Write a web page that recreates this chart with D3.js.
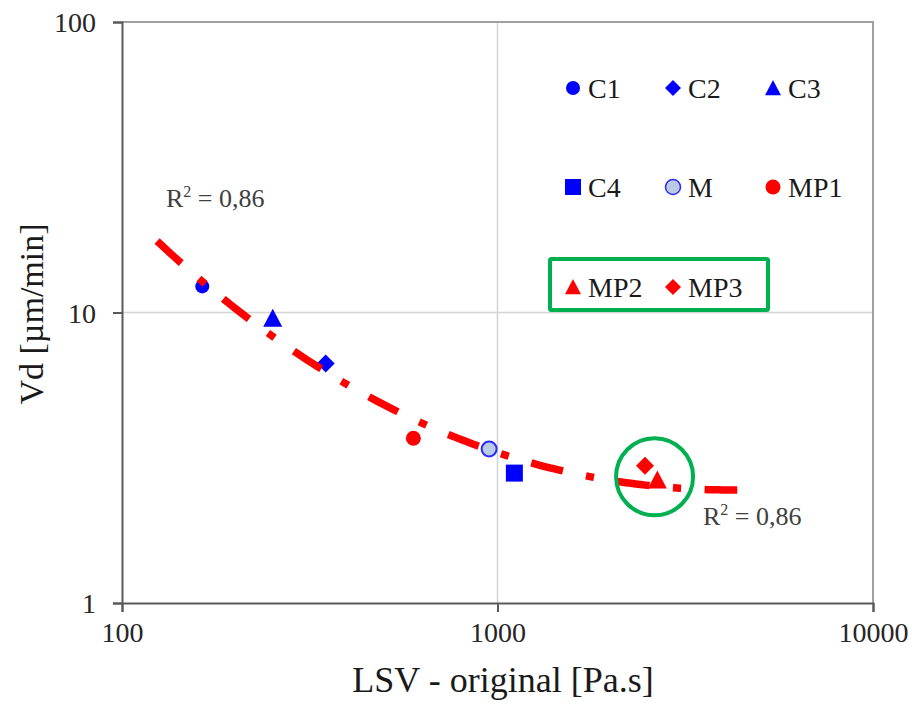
<!DOCTYPE html>
<html>
<head>
<meta charset="utf-8">
<script src="https://cdn.jsdelivr.net/npm/d3@7"></script>
<style>
  html, body { margin: 0; padding: 0; background: #fff; }
  #chart text { font-family: "Liberation Serif", "Times New Roman", serif; }
</style>
</head>
<body>
<svg id="chart" width="912" height="704"></svg>
<script>
// Measured samples: LSV (Pa.s) vs deposition velocity Vd (µm/min)
const seriesNames = ["C1", "C2", "C3", "C4", "M", "MP1", "MP2", "MP3"];
const lsvValues   = [163.6, 348.7, 252, 1109, 950, 597, 2665, 2471];
const vdValues    = [12.3, 6.68, 9.55, 2.80, 3.39, 3.69, 2.65, 2.97];

// Trend line, cubic in log-log space:
// log10(Vd) = Σ c_k · t^k  with  t = log10(LSV) - trendCentre
const trendCoef   = [0.6186, -0.58354, 0.40258, -0.03947];
const trendCentre = 2.8;
const trendRange  = [124, 4350];
const trendLabel  = "0,86";

// Axis ticks
const xTicks = [100, 1000, 10000];
const yTicks = [1, 10, 100];

const plot = { left: 122, right: 873, top: 22, bottom: 603 };

const svg = d3.select("#chart");

const x = d3.scaleLog().domain([100, 10000]).range([plot.left, plot.right]);
const y = d3.scaleLog().domain([1, 100]).range([plot.bottom, plot.top]);

const BLUE = "#0000ff", RED = "#ff0000", GREEN = "#00b050";
const styles = {
  C1:  { shape: "circle",   fill: BLUE, stroke: "none", s: 14 },
  C2:  { shape: "diamond",  fill: BLUE, stroke: "none", s: 18 },
  C3:  { shape: "triangle", fill: BLUE, stroke: "none", s: 19 },
  C4:  { shape: "square",   fill: BLUE, stroke: "none", s: 17 },
  M:   { shape: "circle",   fill: "#b9cce4", stroke: "#2a2aff", s: 15 },
  MP1: { shape: "circle",   fill: RED,  stroke: "none", s: 15 },
  MP2: { shape: "triangle", fill: RED,  stroke: "none", s: 19 },
  MP3: { shape: "diamond",  fill: RED,  stroke: "none", s: 18 }
};

// Marker path centred on (0,0), s = overall width in px
function markerPath(shape, s) {
  const h = s / 2;
  switch (shape) {
    case "circle":
      return `M${h},0A${h},${h} 0 1,1 ${-h},0A${h},${h} 0 1,1 ${h},0Z`;
    case "square":
      return `M${-h},${-h}H${h}V${h}H${-h}Z`;
    case "diamond":
      return `M0,${-h}L${h},0L0,${h}L${-h},0Z`;
    case "triangle":
      return `M0,${-h}L${h},${h * 0.9}L${-h},${h * 0.9}Z`;
  }
}

// Gridlines (inner decades only)
const g = svg.append("g");
g.selectAll(".gx").data(xTicks.slice(1, -1)).join("line")
  .attr("x1", d => x(d)).attr("x2", d => x(d))
  .attr("y1", plot.top).attr("y2", plot.bottom)
  .attr("stroke", "#d4d4d4").attr("stroke-width", 1.5);
g.selectAll(".gy").data(yTicks.slice(1, -1)).join("line")
  .attr("x1", plot.left).attr("x2", plot.right)
  .attr("y1", d => y(d)).attr("y2", d => y(d))
  .attr("stroke", "#d4d4d4").attr("stroke-width", 1.5);

// Plot frame: top & right in light grey
svg.append("path")
  .attr("d", `M${plot.left},${plot.top}H${plot.right}V${plot.bottom}`)
  .attr("fill", "none").attr("stroke", "#a0a0a0").attr("stroke-width", 2);

// Axes
const fontTick = 28;
const xAxis = svg.append("g").attr("transform", `translate(0,${plot.bottom})`)
  .call(d3.axisBottom(x).tickValues(xTicks).tickFormat(d3.format("d")).tickSize(9).tickPadding(10));
const yAxis = svg.append("g").attr("transform", `translate(${plot.left},0)`)
  .call(d3.axisLeft(y).tickValues(yTicks).tickFormat(d3.format("d")).tickSize(9).tickPadding(17));
[xAxis, yAxis].forEach(a => {
  a.select(".domain").attr("stroke", "#5a5a5a").attr("stroke-width", 2);
  a.selectAll(".tick line").attr("stroke", "#5a5a5a").attr("stroke-width", 2);
  a.selectAll(".tick text").attr("font-size", fontTick).attr("fill", "#262626");
});
xAxis.selectAll(".tick text").attr("dy", "0.71em");
yAxis.selectAll(".tick text").attr("dy", "0.34em");

// Axis titles
svg.append("text")
  .attr("x", 503).attr("y", 692)
  .attr("text-anchor", "middle").attr("font-size", 36).attr("fill", "#1a1a1a")
  .text("LSV - original [Pa.s]");
svg.append("text")
  .attr("transform", `translate(43,314) rotate(-90)`)
  .attr("text-anchor", "middle").attr("font-size", 34).attr("fill", "#1a1a1a")
  .text("Vd [µm/min]");

// Data markers
const points = seriesNames.map((name, i) => ({ name, lsv: lsvValues[i], vd: vdValues[i] }));
svg.append("g").selectAll("path").data(points).join("path")
  .attr("transform", d => `translate(${x(d.lsv)},${y(d.vd)})`)
  .attr("d", d => markerPath(styles[d.name].shape, styles[d.name].s))
  .attr("fill", d => styles[d.name].fill)
  .attr("stroke", d => styles[d.name].stroke)
  .attr("stroke-width", 2);

// Trend line (long dash - dot pattern, fitted so it both starts and ends on a dash)
const u0 = Math.log10(trendRange[0]), u1 = Math.log10(trendRange[1]);
const trendPts = d3.range(0, 121).map(i => {
  const u = u0 + (u1 - u0) * i / 120;
  const t = u - trendCentre;
  const v = trendCoef.reduce((acc, c, k) => acc + c * Math.pow(t, k), 0);
  return [Math.pow(10, u), Math.pow(10, v)];
});
const trendPath = svg.append("path")
  .datum(trendPts)
  .attr("d", d3.line().x(d => x(d[0])).y(d => y(d[1])))
  .attr("fill", "none").attr("stroke", RED).attr("stroke-width", 7.5);
const dashPattern = [32, 23, 8, 23];
const period = d3.sum(dashPattern);
const len = trendPath.node().getTotalLength();
const nPeriods = Math.round((len - dashPattern[0]) / period);
const k = len / (nPeriods * period + dashPattern[0]);
trendPath.attr("stroke-dasharray", dashPattern.map(v => (v * k).toFixed(2)).join(","));

// R² labels
function r2Label(px, py) {
  const t = svg.append("text").attr("x", px).attr("y", py)
    .attr("font-size", 26).attr("fill", "#404040");
  t.append("tspan").text("R");
  t.append("tspan").attr("dy", -10).attr("font-size", 16).text("2");
  t.append("tspan").attr("dy", 10).text(" = " + trendLabel);
}
r2Label(166, 207);
r2Label(703, 525);

// Highlight circle around MP2 / MP3
svg.append("circle")
  .attr("cx", x(2620)).attr("cy", y(2.72)).attr("r", 38.5)
  .attr("fill", "none").attr("stroke", GREEN).attr("stroke-width", 4);

// Legend
const legCols = [573, 673, 773], legRows = [88, 187, 287];
const leg = svg.append("g");
seriesNames.forEach((name, i) => {
  const cx = legCols[i % 3], cy = legRows[Math.floor(i / 3)];
  const st = styles[name];
  leg.append("path")
    .attr("transform", `translate(${cx},${cy})`)
    .attr("d", markerPath(st.shape, Math.min(st.s, 16)))
    .attr("fill", st.fill).attr("stroke", st.stroke).attr("stroke-width", 1.5);
  leg.append("text").attr("x", cx + 15).attr("y", cy).attr("dy", "0.34em")
    .attr("font-size", 28).attr("fill", "#1a1a1a").text(name);
});
// Box around the MP2 / MP3 legend entries
leg.append("rect")
  .attr("x", 550).attr("y", 259).attr("width", 218).attr("height", 51)
  .attr("fill", "none").attr("stroke", GREEN).attr("stroke-width", 4).attr("rx", 1.5);
</script>
</body>
</html>
